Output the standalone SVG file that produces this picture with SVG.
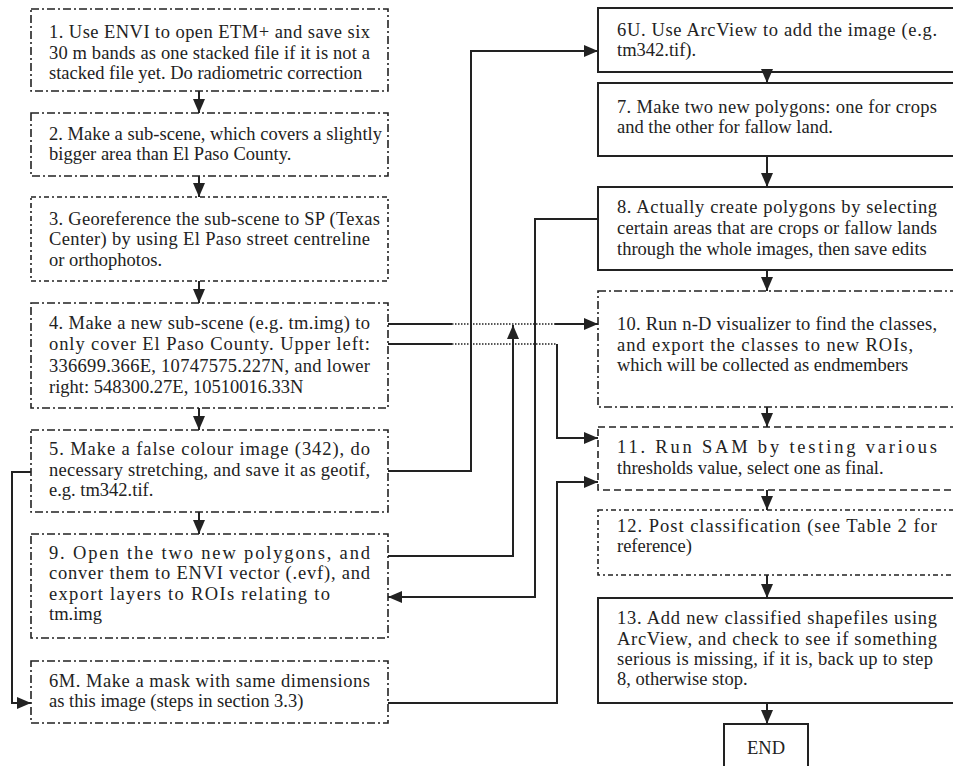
<svg xmlns="http://www.w3.org/2000/svg" width="953" height="766" viewBox="0 0 953 766">
<style>
text{font-family:"Liberation Serif","Times New Roman",serif;font-size:18.5px;fill:#222}
.box{fill:#fff;stroke:#222;stroke-width:1.6}
.dd{stroke-dasharray:8 3 2 3}
.dd2{stroke-dasharray:5 3 2 3}
.da{stroke-dasharray:7 4}
.solid{stroke-width:2}
.c{fill:none;stroke:#222;stroke-width:2}
.dot{fill:none;stroke:#222;stroke-width:1.3;stroke-dasharray:1.5 1.5}
</style>
<defs>
<marker id="ah" viewBox="0 0 14 12" refX="14" refY="6" markerWidth="14" markerHeight="12" markerUnits="userSpaceOnUse" orient="auto">
<path d="M0,0 L14,6 L0,12 z" fill="#222"/>
</marker>
</defs>
<rect width="953" height="766" fill="#fff"/>

<g id="n1"><rect class="box dd" x="31" y="9" width="357" height="82"/>
<text x="49" y="38" textLength="321" lengthAdjust="spacing">1. Use ENVI to open ETM+ and save six</text>
<text x="49" y="59" textLength="321" lengthAdjust="spacing">30 m bands as one stacked file if it is not a</text>
<text x="49" y="79">stacked file yet. Do radiometric correction</text></g>

<g id="n2"><rect class="box dd" x="31" y="113" width="357" height="63"/>
<text x="49" y="140" textLength="333" lengthAdjust="spacing">2. Make a sub-scene, which covers a slightly</text>
<text x="49" y="160">bigger area than El Paso County.</text></g>

<g id="n3"><rect class="box dd2" x="31" y="197" width="357" height="84"/>
<text x="49" y="225" textLength="331" lengthAdjust="spacing">3. Georeference the sub-scene to SP (Texas</text>
<text x="49" y="245" textLength="321" lengthAdjust="spacing">Center) by using El Paso street centreline</text>
<text x="49" y="266">or orthophotos.</text></g>

<g id="n4"><rect class="box dd" x="31" y="303" width="357" height="105"/>
<text x="49" y="329" textLength="321" lengthAdjust="spacing">4. Make a new sub-scene (e.g. tm.img) to</text>
<text x="49" y="350" textLength="321" lengthAdjust="spacing">only cover El Paso County. Upper left:</text>
<text x="49" y="372" textLength="321" lengthAdjust="spacing">336699.366E, 10747575.227N, and lower</text>
<text x="49" y="393">right: 548300.27E, 10510016.33N</text></g>

<g id="n5"><rect class="box dd" x="31" y="430" width="357" height="82"/>
<text x="49" y="455" textLength="321" lengthAdjust="spacing">5. Make a false colour image (342), do</text>
<text x="49" y="476" textLength="321" lengthAdjust="spacing">necessary stretching, and save it as geotif,</text>
<text x="49" y="496">e.g. tm342.tif.</text></g>

<g id="n9"><rect class="box dd" x="31" y="534" width="357" height="104"/>
<text x="49" y="559" textLength="321" lengthAdjust="spacing">9. Open the two new polygons, and</text>
<text x="49" y="579" textLength="321" lengthAdjust="spacing">conver them to ENVI vector (.evf), and</text>
<text x="49" y="600" textLength="281" lengthAdjust="spacing">export layers to ROIs relating to</text>
<text x="49" y="620">tm.img</text></g>

<g id="n6M"><rect class="box dd" x="31" y="661" width="357" height="62"/>
<text x="49" y="687" textLength="321" lengthAdjust="spacing">6M. Make a mask with same dimensions</text>
<text x="49" y="707">as this image (steps in section 3.3)</text></g>

<g id="n6U"><rect class="box solid" x="598" y="8" width="365" height="64"/>
<text x="617" y="36" textLength="320" lengthAdjust="spacing">6U. Use ArcView to add the image (e.g.</text>
<text x="617" y="56">tm342.tif).</text></g>

<g id="n7"><rect class="box solid" x="598" y="83" width="365" height="73"/>
<text x="617" y="113" textLength="320" lengthAdjust="spacing">7. Make two new polygons: one for crops</text>
<text x="617" y="133">and the other for fallow land.</text></g>

<g id="n8"><rect class="box solid" x="598" y="187" width="365" height="83"/>
<text x="617" y="213" textLength="320" lengthAdjust="spacing">8. Actually create polygons by selecting</text>
<text x="617" y="234" textLength="320" lengthAdjust="spacing">certain areas that are crops or fallow lands</text>
<text x="617" y="255">through the whole images, then save edits</text></g>

<g id="n10"><rect class="box dd" x="598" y="291" width="365" height="116"/>
<text x="617" y="330" textLength="320" lengthAdjust="spacing">10. Run n-D visualizer to find the classes,</text>
<text x="617" y="351" textLength="296" lengthAdjust="spacing">and export the classes to new ROIs,</text>
<text x="617" y="371">which will be collected as endmembers</text></g>

<g id="n11"><rect class="box da" x="598" y="427" width="365" height="63"/>
<text x="617" y="453" textLength="320" lengthAdjust="spacing">11. Run SAM by testing various</text>
<text x="617" y="474">thresholds value, select one as final.</text></g>

<g id="n12"><rect class="box dd2" x="598" y="510" width="365" height="65"/>
<text x="617" y="532" textLength="320" lengthAdjust="spacing">12. Post classification (see Table 2 for</text>
<text x="617" y="552">reference)</text></g>

<g id="n13"><rect class="box solid" x="598" y="598" width="365" height="105"/>
<text x="617" y="624" textLength="320" lengthAdjust="spacing">13. Add new classified shapefiles using</text>
<text x="617" y="645" textLength="320" lengthAdjust="spacing">ArcView, and check to see if something</text>
<text x="617" y="665" textLength="316" lengthAdjust="spacing">serious is missing, if it is, back up to step</text>
<text x="617" y="685">8, otherwise stop.</text></g>

<g id="nEND"><rect class="box solid" x="724" y="724" width="84" height="60"/>
<text x="766" y="754" text-anchor="middle">END</text></g>

<g id="connectors">
<path class="c" d="M199,91 V113" marker-end="url(#ah)"/>
<path class="c" d="M199,176 V197" marker-end="url(#ah)"/>
<path class="c" d="M199,281 V303" marker-end="url(#ah)"/>
<path class="c" d="M199,408 V430" marker-end="url(#ah)"/>
<path class="c" d="M199,512 V534" marker-end="url(#ah)"/>
<path class="c" d="M767,72 V83" marker-end="url(#ah)"/>
<path class="c" d="M767,156 V187" marker-end="url(#ah)"/>
<path class="c" d="M767,270 V291" marker-end="url(#ah)"/>
<path class="c" d="M767,407 V427" marker-end="url(#ah)"/>
<path class="c" d="M767,490 V510" marker-end="url(#ah)"/>
<path class="c" d="M767,575 V598" marker-end="url(#ah)"/>
<path class="c" d="M767,703 V724" marker-end="url(#ah)"/>
<!-- 5 -> 6U -->
<path class="c" d="M388,471 H471 V51 H598" marker-end="url(#ah)"/>
<!-- 8 -> 9 -->
<path class="c" d="M598,219 H535 V597 H388" marker-end="url(#ah)"/>
<!-- 9 -> up -->
<path class="c" d="M388,556 H513 V325" marker-end="url(#ah)"/>
<!-- 4 -> 10 -->
<path class="c" d="M388,324 H452"/>
<path class="dot" d="M452,324 H555"/>
<path class="c" d="M555,324 H598" marker-end="url(#ah)"/>
<!-- 4 -> 11 -->
<path class="c" d="M388,344 H452"/>
<path class="dot" d="M452,344 H557"/>
<path class="c" d="M557,344 V438 H598" marker-end="url(#ah)"/>
<!-- 6M -> 11 -->
<path class="c" d="M388,703 H557 V482 H598" marker-end="url(#ah)"/>
<!-- 5 -> 6M -->
<path class="c" d="M31,472 H12 V703 H31" marker-end="url(#ah)"/>
</g>
</svg>
